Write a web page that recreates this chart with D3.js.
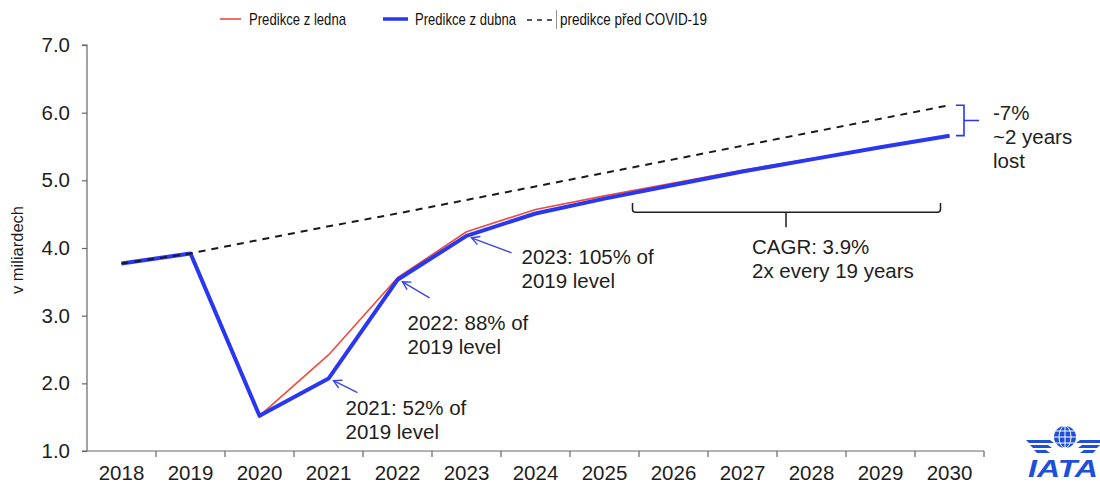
<!DOCTYPE html>
<html>
<head>
<meta charset="utf-8">
<script src="https://cdn.jsdelivr.net/npm/d3@7"></script>
<style>
  html, body { margin: 0; padding: 0; background: #fff; }
  svg { display: block; }
</style>
</head>
<body>
<svg id="chart" width="1100" height="484"></svg>
<script>
// Passenger forecast (billions), IATA
const years = [2018, 2019, 2020, 2021, 2022, 2023, 2024, 2025, 2026, 2027, 2028, 2029, 2030];
const forecastJanuary = [3.77, 3.92, 1.52, 2.42, 3.56, 4.24, 4.57, 4.77, 4.96, 5.15, 5.32, 5.49, 5.66];
const forecastApril   = [3.77, 3.92, 1.52, 2.07, 3.53, 4.18, 4.51, 4.73, 4.93, 5.13, 5.31, 5.49, 5.66];
const forecastPreCovid = [3.77, 3.92, 4.12, 4.32, 4.51, 4.71, 4.91, 5.11, 5.31, 5.51, 5.71, 5.91, 6.11];
const yTicks = [1.0, 2.0, 3.0, 4.0, 5.0, 6.0, 7.0];
const legendLabels = ["Predikce z ledna", "Predikce z dubna", "predikce před COVID-19"];
const yTitle = "v miliardech";
const notes = [
  { year: 2021, lines: ["2021: 52% of", "2019 level"] },
  { year: 2022, lines: ["2022: 88% of", "2019 level"] },
  { year: 2023, lines: ["2023: 105% of", "2019 level"] }
];
const cagrLines = ["CAGR: 3.9%", "2x every 19 years"];
const gapLines = ["-7%", "~2 years", "lost"];

const RED = "#ee4b3c", BLUE = "#2a37f2", INK = "#1e1e1e", AXIS = "#666";
const FONT = "'Liberation Sans', Arial, sans-serif";
const FS = 20.5;

const svg = d3.select("#chart");
const plotL = 87, plotR = 984, plotT = 45, plotB = 451;

const x = d3.scaleBand().domain(years).range([plotL, plotR]).padding(0);
const cx = yr => x(yr) + x.bandwidth() / 2;
const y = d3.scaleLinear().domain([1, 7]).range([plotB, plotT]);

// Y axis
const yAxis = svg.append("g").attr("transform", `translate(${plotL},0)`)
  .call(d3.axisLeft(y).tickValues(yTicks).tickFormat(d3.format(".1f")).tickSize(5).tickPadding(12));
yAxis.select(".domain").attr("stroke", AXIS).attr("stroke-width", 1.2).attr("d", `M-5,${plotT}H0V${plotB}`);
yAxis.selectAll(".tick line").attr("stroke", AXIS).attr("stroke-width", 1.2);
yAxis.selectAll(".tick text").attr("font-family", FONT).attr("font-size", FS).attr("fill", INK);

// X axis: labels centred in bands, ticks on band edges
const xAxis = svg.append("g").attr("transform", `translate(0,${plotB})`)
  .call(d3.axisBottom(x).tickSize(0).tickPadding(14));
xAxis.select(".domain").attr("stroke", AXIS).attr("stroke-width", 1.2).attr("d", `M${plotL - 5},0H${plotR}`);
xAxis.selectAll(".tick text").attr("font-family", FONT).attr("font-size", FS).attr("fill", INK);
xAxis.selectAll("line.edge").data(years.slice(1).concat(["end"])).join("line")
  .attr("class", "edge")
  .attr("x1", d => d === "end" ? plotR : x(d)).attr("x2", d => d === "end" ? plotR : x(d))
  .attr("y1", 0).attr("y2", 6).attr("stroke", AXIS).attr("stroke-width", 1.2);

// Y title
svg.append("text").attr("transform", `translate(23,250) rotate(-90)`)
  .attr("text-anchor", "middle").attr("font-family", FONT).attr("font-size", 16.5).attr("fill", INK)
  .text(yTitle);

// Lines
const line = d3.line().x((d, i) => cx(years[i])).y(d => y(d));
svg.append("path").datum(forecastJanuary).attr("d", line)
  .attr("fill", "none").attr("stroke", RED).attr("stroke-width", 1.6).attr("stroke-linejoin", "round");
svg.append("path").datum(forecastApril).attr("d", line)
  .attr("fill", "none").attr("stroke", BLUE).attr("stroke-width", 4).attr("stroke-linejoin", "round");
svg.append("path").datum(forecastPreCovid).attr("d", line)
  .attr("fill", "none").attr("stroke", "#1a1a1a").attr("stroke-width", 2).attr("stroke-dasharray", "7,6");

// Point annotations with arrows
const arrowColor = "#3b45e6";
const noteLayout = {
  2021: { label: [17, 36], tail: [24, 12] },
  2022: { label: [10, 50], tail: [27, 16] },
  2023: { label: [55, 28], tail: [40, 15] }
};
notes.forEach(n => {
  const i = years.indexOf(n.year);
  const px = cx(n.year), py = y(forecastApril[i]);
  const L = noteLayout[n.year];
  const tipX = px + 5, tipY = py + 2;
  const tailX = tipX + L.tail[0], tailY = tipY + L.tail[1];
  svg.append("line").attr("x1", tailX).attr("y1", tailY).attr("x2", tipX).attr("y2", tipY)
    .attr("stroke", arrowColor).attr("stroke-width", 1.4);
  const ang = Math.atan2(tailY - tipY, tailX - tipX);
  const hl = 9, spread = 0.5;
  svg.append("path")
    .attr("d", `M${tipX + hl * Math.cos(ang - spread)},${tipY + hl * Math.sin(ang - spread)}L${tipX},${tipY}L${tipX + hl * Math.cos(ang + spread)},${tipY + hl * Math.sin(ang + spread)}`)
    .attr("fill", "none").attr("stroke", arrowColor).attr("stroke-width", 1.4);
  const t = svg.append("text").attr("font-family", FONT).attr("font-size", FS).attr("fill", INK);
  n.lines.forEach((s, k) => t.append("tspan").attr("x", px + L.label[0]).attr("y", py + L.label[1] + k * 24).text(s));
});

// CAGR bracket
const bL = cx(2025) + 28, bR = cx(2030) - 9, bTop = y(4.665), bMid = y(4.53), bC = 786;
svg.append("path")
  .attr("d", `M${bL},${bTop}V${bMid - 3}Q${bL},${bMid} ${bL + 3},${bMid}H${bR - 3}Q${bR},${bMid} ${bR},${bMid - 3}V${bTop}M${bC},${bMid}V${bMid + 15}`)
  .attr("fill", "none").attr("stroke", INK).attr("stroke-width", 1.5);
const ct = svg.append("text").attr("font-family", FONT).attr("font-size", FS).attr("fill", INK);
cagrLines.forEach((s, k) => ct.append("tspan").attr("x", bC - 34).attr("y", bMid + 42 + k * 24).text(s));

// Gap bracket at 2030
const gTop = y(forecastPreCovid[12]), gBot = y(forecastApril[12]), gx = 964, gMid = (gTop + gBot) / 2;
svg.append("path")
  .attr("d", `M${gx - 8},${gTop}H${gx}V${gBot}H${gx - 8}M${gx},${gMid}H${gx + 15}`)
  .attr("fill", "none").attr("stroke", BLUE).attr("stroke-width", 1.6);
const gt = svg.append("text").attr("font-family", FONT).attr("font-size", FS).attr("fill", INK);
gapLines.forEach((s, k) => gt.append("tspan").attr("x", 993).attr("y", gTop + 15 + k * 24).text(s));

// Legend (condensed face)
const lg = svg.append("g").attr("font-family", FONT).attr("font-size", 17).attr("fill", "#111");
lg.append("line").attr("x1", 220).attr("x2", 241).attr("y1", 19).attr("y2", 19).attr("stroke", RED).attr("stroke-width", 1.6);
lg.append("text").attr("x", 249).attr("y", 25).attr("textLength", 97).attr("lengthAdjust", "spacingAndGlyphs").text(legendLabels[0]);
lg.append("line").attr("x1", 383).attr("x2", 408).attr("y1", 19).attr("y2", 19).attr("stroke", BLUE).attr("stroke-width", 3.5);
lg.append("text").attr("x", 415).attr("y", 25).attr("textLength", 101).attr("lengthAdjust", "spacingAndGlyphs").text(legendLabels[1]);
lg.append("line").attr("x1", 527).attr("x2", 553).attr("y1", 20).attr("y2", 20).attr("stroke", "#222").attr("stroke-width", 1.6).attr("stroke-dasharray", "5,5");
lg.append("line").attr("x1", 556.5).attr("x2", 556.5).attr("y1", 10).attr("y2", 29).attr("stroke", "#777").attr("stroke-width", 0.8);
lg.append("text").attr("x", 560).attr("y", 25).attr("textLength", 147).attr("lengthAdjust", "spacingAndGlyphs").text(legendLabels[2]);

// IATA mark
const logo = svg.append("g").attr("fill", "#1d4fd8").attr("stroke", "none");
const gc = [1065, 437], gr = 11;
logo.append("circle").attr("cx", gc[0]).attr("cy", gc[1]).attr("r", gr);
const grid = svg.append("g").attr("stroke", "#fff").attr("stroke-width", 1).attr("fill", "none");
[-6, 0, 6].forEach(dy => {
  const hw = Math.sqrt(gr * gr - dy * dy);
  grid.append("line").attr("x1", gc[0] - hw).attr("x2", gc[0] + hw).attr("y1", gc[1] + dy).attr("y2", gc[1] + dy);
});
grid.append("line").attr("x1", gc[0]).attr("x2", gc[0]).attr("y1", gc[1] - gr).attr("y2", gc[1] + gr);
grid.append("ellipse").attr("cx", gc[0]).attr("cy", gc[1]).attr("rx", 6).attr("ry", gr);
[0, 1, 2].forEach(k => {
  const yy = 440 + k * 5;
  logo.append("path").attr("d", `M${1026 + k * 4},${yy}H${1050 - k * 2}L${1054 - k * 2},${yy + 3}H${1029 + k * 4}Z`);
  logo.append("path").attr("d", `M${1104 - k * 4},${yy}H${1080 + k * 2}L${1076 + k * 2},${yy + 3}H${1101 - k * 4}Z`);
});
logo.append("text").attr("x", 1063).attr("y", 477).attr("text-anchor", "middle")
  .attr("font-family", FONT).attr("font-weight", "bold").attr("font-style", "italic").attr("font-size", 24)
  .attr("textLength", 70).attr("lengthAdjust", "spacingAndGlyphs")
  .text("IATA");
</script>
</body>
</html>
